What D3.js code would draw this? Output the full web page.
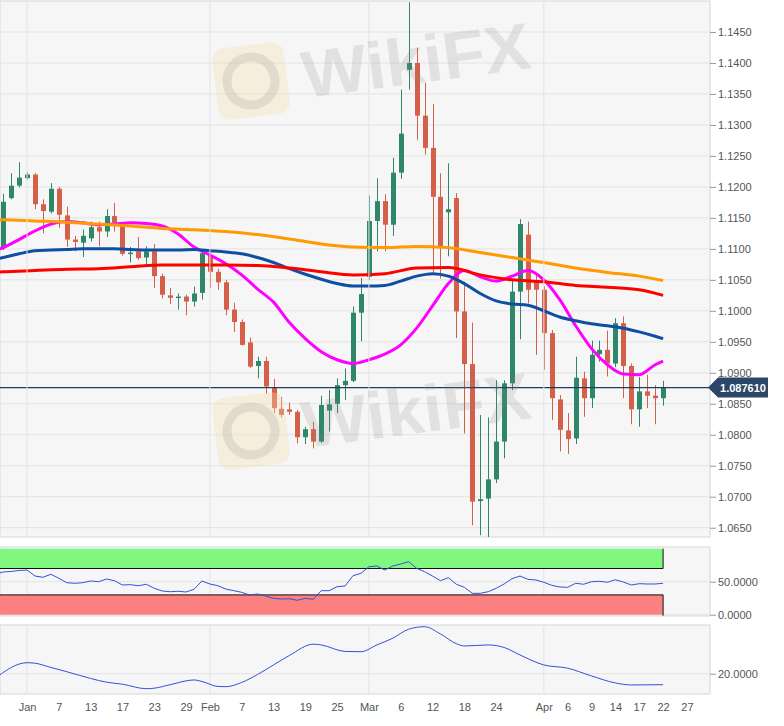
<!DOCTYPE html>
<html>
<head>
<meta charset="utf-8">
<script src="https://cdn.jsdelivr.net/npm/d3@7"></script>
<style>
  body { margin: 0; background: #fff; }
  svg { display: block; }
  text { font-family: "Liberation Sans", Arial, sans-serif; }
</style>
</head>
<body>
<svg width="784" height="726"></svg>
<script>
// EUR/USD daily, trading-day index 0 = Jan 1
const firstIdx = -3;
const open = [1.1101, 1.1182, 1.1202, 1.1214, 1.1220, 1.1172, 1.1160, 1.1197, 1.1154, 1.1115,
  1.1110, 1.1117, 1.1135, 1.1128, 1.1153, 1.1142, 1.1092, 1.1096, 1.1086, 1.1096,
  1.1056, 1.1025, 1.1021, 1.1023, 1.1015, 1.1029, 1.1090, 1.1063, 1.1046, 1.1002,
  1.0982, 1.0949, 1.0911, 1.0919, 1.0877, 1.0842, 1.0841, 1.0837, 1.0796, 1.0809,
  1.0789, 1.0839, 1.0850, 1.0880, 1.0887, 1.0997, 1.1055, 1.1145, 1.1177, 1.1139,
  1.1223, 1.1389, 1.1400, 1.1315, 1.1263, 1.1184, 1.1159, 1.1182, 1.0999, 1.0914,
  1.0693, 1.0697, 1.0728, 1.0789, 1.0883, 1.1031, 1.1123, 1.1047, 1.1034, 1.0964,
  1.0857, 1.0807, 1.0794, 1.0891, 1.0859, 1.0930, 1.0937, 1.0915, 1.0980, 1.0911,
  1.0841, 1.0870, 1.0863, 1.0859];
const high = [1.1189, 1.1222, 1.1240, 1.1224, 1.1222, 1.1180, 1.1206, 1.1200, 1.1168, 1.1121,
  1.1131, 1.1144, 1.1144, 1.1164, 1.1174, 1.1143, 1.1103, 1.1119, 1.1104, 1.1108,
  1.1060, 1.1037, 1.1028, 1.1026, 1.1039, 1.1097, 1.1096, 1.1068, 1.1050, 1.1013,
  1.0986, 1.0957, 1.0926, 1.0926, 1.0890, 1.0861, 1.0852, 1.0840, 1.0813, 1.0821,
  1.0863, 1.0872, 1.0891, 1.0907, 1.1007, 1.1053, 1.1186, 1.1214, 1.1188, 1.1247,
  1.1357, 1.1498, 1.1425, 1.1368, 1.1334, 1.1222, 1.1238, 1.1190, 1.1047, 1.0981,
  1.0832, 1.0828, 1.0888, 1.0888, 1.1050, 1.1148, 1.1144, 1.1058, 1.1040, 1.0969,
  1.0864, 1.0835, 1.0926, 1.0902, 1.0952, 1.0952, 1.0968, 1.0988, 1.0991, 1.0915,
  1.0893, 1.0897, 1.0880, 1.0887];
const low = [1.1098, 1.1180, 1.1199, 1.1212, 1.1164, 1.1125, 1.1157, 1.1134, 1.1103, 1.1096,
  1.1087, 1.1112, 1.1104, 1.1119, 1.1128, 1.1089, 1.1078, 1.1082, 1.1074, 1.1037,
  1.1020, 1.1011, 1.1002, 1.0993, 1.1007, 1.1018, 1.1037, 1.1034, 1.0993, 1.0966,
  1.0944, 1.0908, 1.0891, 1.0866, 1.0835, 1.0828, 1.0832, 1.0786, 1.0785, 1.0778,
  1.0787, 1.0805, 1.0835, 1.0856, 1.0885, 1.0951, 1.1050, 1.1096, 1.1096, 1.1121,
  1.1213, 1.1357, 1.1276, 1.1252, 1.1060, 1.1052, 1.1088, 1.0956, 1.0802, 1.0654,
  1.0638, 1.0635, 1.0722, 1.0762, 1.0872, 1.0954, 1.1012, 1.0929, 1.0905, 1.0824,
  1.0773, 1.0769, 1.0785, 1.0829, 1.0843, 1.0918, 1.0894, 1.0909, 1.0859, 1.0817,
  1.0813, 1.0843, 1.0817, 1.0847];
const close = [1.1176, 1.1202, 1.1215, 1.1220, 1.1172, 1.1161, 1.1197, 1.1155, 1.1115, 1.1111,
  1.1121, 1.1135, 1.1128, 1.1153, 1.1142, 1.1092, 1.1094, 1.1085, 1.1096, 1.1056,
  1.1026, 1.1021, 1.1023, 1.1015, 1.1028, 1.1093, 1.1063, 1.1046, 1.1002, 1.0982,
  1.0945, 1.0910, 1.0919, 1.0878, 1.0843, 1.0832, 1.0837, 1.0796, 1.0809, 1.0789,
  1.0848, 1.0849, 1.0880, 1.0887, 1.0997, 1.1027, 1.1145, 1.1177, 1.1139, 1.1223,
  1.1286, 1.1400, 1.1315, 1.1263, 1.1184, 1.1103, 1.1164, 1.0999, 1.0914, 1.0692,
  1.0696, 1.0728, 1.0789, 1.0883, 1.1031, 1.1140, 1.1034, 1.1034, 1.0964, 1.0859,
  1.0808, 1.0793, 1.0892, 1.0859, 1.0929, 1.0937, 1.0915, 1.0980, 1.0911, 1.0841,
  1.0870, 1.0863, 1.0859, 1.0876];
const lastPrice = 1.087610;

// moving averages, read at these trading-day indices
const slowIdx = [-4, -3, 1, 5, 9, 13, 17, 21, 25, 29, 33, 37, 41, 45, 49, 53, 57, 61, 65, 69, 73, 77, 80];
const ma200 = [1.1147, 1.1147, 1.1145, 1.1143, 1.1140, 1.1137, 1.1133, 1.1131, 1.1128, 1.1123, 1.1116, 1.1108,
  1.1103, 1.1102, 1.1104, 1.1102, 1.1094, 1.1086, 1.1078, 1.1069, 1.1062, 1.1056, 1.1049];
const ma100 = [1.1062, 1.1063, 1.1065, 1.1067, 1.1068, 1.1071, 1.1074, 1.1074, 1.1074, 1.1073, 1.1069, 1.1063,
  1.1058, 1.1060, 1.1069, 1.1070, 1.1058, 1.1050, 1.1047, 1.1041, 1.1038, 1.1034, 1.1025];
const fastIdx = [-4, -3, -1, 1, 3, 5, 7, 9, 11, 13, 15, 17, 19, 21, 23, 25, 27, 29, 31, 33, 35, 37, 39, 41,
  43, 45, 47, 49, 51, 53, 55, 57, 59, 61, 63, 65, 67, 69, 71, 73, 75, 77, 79, 80];
const ma50 = [1.1083, 1.1086, 1.1092, 1.1097, 1.1098, 1.1099, 1.1100, 1.1100, 1.1100, 1.1099, 1.1098, 1.1098,
  1.1098, 1.1099, 1.1097, 1.1095, 1.1092, 1.1086, 1.1078, 1.1068, 1.1059, 1.1051, 1.1044, 1.1040,
  1.1040, 1.1041, 1.1048, 1.1056, 1.1060, 1.1056, 1.1044, 1.1028, 1.1016, 1.1011, 1.1009, 1.1000,
  1.0990, 1.0984, 1.0979, 1.0976, 1.0972, 1.0966, 1.0959, 1.0955];
const ma20 = [1.1097, 1.1102, 1.1115, 1.1129, 1.1140, 1.1144, 1.1142, 1.1139, 1.1140, 1.1142, 1.1141, 1.1137,
  1.1124, 1.1103, 1.1090, 1.1076, 1.1058, 1.1035, 1.1014, 1.0981, 1.0955, 1.0934, 1.0921, 1.0915,
  1.0921, 1.0930, 1.0945, 1.0972, 1.1008, 1.1044, 1.1065, 1.1055, 1.1048, 1.1056, 1.1065, 1.1050,
  1.1018, 1.0976, 1.0939, 1.0913, 1.0898, 1.0897, 1.0913, 1.0919];

// RSI, one value per day from index -4
const rsiFirst = -4;
const rsi = [61.5, 64.7, 65.5, 67.0, 67.7, 58.6, 56.7, 61.2, 55.2, 48.5,
  47.6, 48.5, 51.1, 50.0, 54.1, 51.5, 45.0, 45.5, 43.9, 46.1,
  40.0, 35.9, 34.8, 35.5, 34.4, 38.5, 51.1, 46.5, 43.9, 38.9,
  36.4, 33.9, 29.8, 31.4, 28.3, 24.8, 23.8, 24.2, 21.8, 24.8,
  23.3, 36.4, 36.4, 42.4, 43.5, 59.1, 62.7, 72.7, 73.8, 67.7,
  73.8, 76.8, 80.3, 70.3, 65.2, 58.6, 51.5, 56.1, 46.1, 41.5,
  32.4, 32.4, 34.8, 40.0, 46.5, 54.5, 58.6, 53.6, 52.6, 49.1,
  44.5, 42.0, 41.5, 47.6, 46.1, 50.0, 50.6, 49.1, 53.0, 49.5,
  45.0, 47.0, 46.5, 46.5, 47.6];

// lower indicator
const lowIdx = [-4, 0, 1, 3, 5, 8, 10, 12, 15, 16, 18, 21, 22, 24, 25, 27, 29, 31, 33, 36, 37, 40, 42, 44,
  46, 48, 50, 52, 54, 55, 58, 60, 62, 65, 68, 71, 74, 76, 80];
const lowVal = [18.2, 24.4, 24.2, 22.5, 20.8, 18.1, 16.6, 15.8, 14.0, 14.2, 15.6, 17.5, 16.9, 14.9, 14.8, 16.5,
  19.7, 23.5, 27.3, 31.8, 31.5, 28.9, 28.8, 31.5, 34.2, 37.8, 38.8, 35.9, 32.0, 31.1, 31.5, 30.5,
  27.5, 23.5, 22.2, 19.1, 16.3, 15.5, 15.6];

// axes
const priceTicks = [1.0650, 1.0700, 1.0750, 1.0800, 1.0850, 1.0900, 1.0950, 1.1000, 1.1050,
  1.1100, 1.1150, 1.1200, 1.1250, 1.1300, 1.1350, 1.1400, 1.1450];
const monthIdx = [0, 23, 43, 65];
const xTickIdx = [0, 4, 8, 12, 16, 20, 23, 27, 31, 35, 39, 43, 47, 51, 55, 59, 65, 68, 71, 74, 77, 80, 83];
const xTickLabels = ["Jan", "7", "13", "17", "23", "29", "Feb", "7", "13", "19", "25", "Mar", "6", "12", "18",
  "24", "Apr", "6", "9", "14", "17", "22", "27"];

const svg = d3.select("svg");
const plotR = 710;
const mainP = {top: 1, bottom: 537};
const rsiP = {top: 547, bottom: 616};
const lowP = {top: 625, bottom: 694};

const x = d3.scaleLinear().domain([-3.4, 85.9]).range([0, plotR]);
const y = d3.scaleLinear().domain([1.0635, 1.1500]).range([mainP.bottom, mainP.top]);
const yRsi = d3.scaleLinear().domain([0, 100]).range([614.7, 548.7]);
const yLow = d3.scaleLinear().domain([20, 40]).range([673.7, 623.7]);

const green = "#2e8769", red = "#d5604a", grid = "#e3e3e3";

// panel backgrounds + clips
const defs = svg.append("defs");
[mainP, rsiP, lowP].forEach((p, k) => {
  svg.append("rect").attr("x", 0).attr("y", p.top).attr("width", plotR).attr("height", p.bottom - p.top)
    .attr("fill", "#f6f6f6").attr("stroke", "#d6d6d6");
  defs.append("clipPath").attr("id", "clip" + k).append("rect")
    .attr("x", 0).attr("y", p.top).attr("width", plotR).attr("height", p.bottom - p.top);
});

// gridlines
const gMain = svg.append("g").attr("clip-path", "url(#clip0)");
gMain.selectAll(".hg").data(priceTicks).join("line")
  .attr("x1", 0).attr("x2", plotR).attr("y1", d => y(d)).attr("y2", d => y(d))
  .attr("stroke", grid);
[mainP, rsiP, lowP].forEach(p => {
  svg.append("g").selectAll("line").data(monthIdx).join("line")
    .attr("x1", d => x(d)).attr("x2", d => x(d)).attr("y1", p.top + 1).attr("y2", p.bottom - 1)
    .attr("stroke", grid);
});
svg.selectAll(".rg").data([0, 50]).join("line")
  .attr("x1", 0).attr("x2", plotR).attr("y1", d => yRsi(d)).attr("y2", d => yRsi(d)).attr("stroke", grid);
svg.append("line").attr("x1", 0).attr("x2", plotR).attr("y1", yLow(20)).attr("y2", yLow(20)).attr("stroke", grid);

// moving averages
const maLine = d3.line().x(d => x(d[0])).y(d => y(d[1])).curve(d3.curveMonotoneX);
const maSeries = [
  {idx: fastIdx, vals: ma20, color: "#ff00ff"},
  {idx: fastIdx, vals: ma50, color: "#0f4fa3"},
  {idx: slowIdx, vals: ma100, color: "#ff0000"},
  {idx: slowIdx, vals: ma200, color: "#ff9a00"}
];

// candles
const candles = open.map((o, k) => ({i: firstIdx + k, o: o, h: high[k], l: low[k], c: close[k]}));
const cg = gMain.append("g");
cg.selectAll("line").data(candles).join("line")
  .attr("x1", d => Math.round(x(d.i)) + 0.5).attr("x2", d => Math.round(x(d.i)) + 0.5)
  .attr("y1", d => y(d.h)).attr("y2", d => y(d.l))
  .attr("stroke", d => d.c >= d.o ? green : red).attr("stroke-width", 1);
cg.selectAll("rect").data(candles).join("rect")
  .attr("x", d => Math.round(x(d.i)) - 2).attr("width", 5)
  .attr("y", d => y(Math.max(d.o, d.c)))
  .attr("height", d => Math.max(1.5, Math.abs(y(d.o) - y(d.c))))
  .attr("fill", d => d.c >= d.o ? green : red);

gMain.selectAll(".ma").data(maSeries).join("path")
  .attr("fill", "none").attr("stroke", d => d.color).attr("stroke-width", 3)
  .attr("d", d => maLine(d.idx.map((v, k) => [v, d.vals[k]])));

// last price line
gMain.append("line").attr("x1", 0).attr("x2", plotR).attr("y1", y(lastPrice)).attr("y2", y(lastPrice))
  .attr("stroke", "#203d60").attr("stroke-width", 1.2);

// RSI panel
const gRsi = svg.append("g").attr("clip-path", "url(#clip1)");
gRsi.append("rect").attr("x", 0).attr("width", x(80)).attr("y", yRsi(100))
  .attr("height", yRsi(70) - yRsi(100)).attr("fill", "#80f880");
gRsi.append("rect").attr("x", 0).attr("width", x(80)).attr("y", yRsi(30))
  .attr("height", yRsi(0) - yRsi(30)).attr("fill", "#fb8080");
gRsi.append("path").attr("fill", "none").attr("stroke", "#111").attr("stroke-width", 1)
  .attr("d", `M0,${yRsi(70)}H${x(80)}V${yRsi(100)}M0,${yRsi(30)}H${x(80)}V${yRsi(0) + 1}`);
gRsi.append("path").attr("fill", "none").attr("stroke", "#3450d6").attr("stroke-width", 1)
  .attr("d", d3.line().x((d, k) => x(rsiFirst + k)).y(d => yRsi(d))(rsi));

// lower panel
svg.append("g").attr("clip-path", "url(#clip2)").append("path")
  .attr("fill", "none").attr("stroke", "#3450d6").attr("stroke-width", 1)
  .attr("d", d3.line().x(d => x(d[0])).y(d => yLow(d[1])).curve(d3.curveMonotoneX)(lowIdx.map((v, k) => [v, lowVal[k]])));

// axes
function styleAxis(g) {
  g.select(".domain").remove();
  g.selectAll(".tick line").attr("stroke", "#9a9a9a");
  g.selectAll(".tick text").attr("fill", "#555").attr("font-size", 11)
    .attr("font-family", "'Liberation Sans', Arial, sans-serif");
}
svg.append("g").attr("transform", `translate(${plotR},0)`)
  .call(d3.axisRight(y).tickValues(priceTicks).tickFormat(d3.format(".4f")).tickSize(6).tickPadding(2))
  .call(styleAxis);
svg.append("g").attr("transform", `translate(${plotR},0)`)
  .call(d3.axisRight(yRsi).tickValues([0, 50]).tickFormat(d3.format(".4f")).tickSize(6).tickPadding(2))
  .call(styleAxis);
svg.append("g").attr("transform", `translate(${plotR},0)`)
  .call(d3.axisRight(yLow).tickValues([20]).tickFormat(d3.format(".4f")).tickSize(6).tickPadding(2))
  .call(styleAxis);
svg.append("g").attr("transform", `translate(0,${lowP.bottom})`)
  .call(d3.axisBottom(x).tickValues(xTickIdx).tickFormat((d, k) => xTickLabels[k]).tickSize(0).tickPadding(9))
  .call(styleAxis);

// last price tag
const ly = y(lastPrice);
svg.append("path").attr("fill", "#2b4668")
  .attr("d", `M${plotR - 2},${ly}L${plotR + 8},${ly - 10}H${plotR + 58}V${ly + 10}H${plotR + 8}Z`);
svg.append("text").attr("x", plotR + 33).attr("y", ly + 4).attr("text-anchor", "middle")
  .attr("fill", "#fff").attr("font-size", 11).attr("font-weight", "bold").text(d3.format(".6f")(lastPrice));

// watermark
function watermark(dy) {
  const g = svg.append("g").attr("transform", `translate(0,${dy})`).attr("pointer-events", "none");
  const logo = g.append("g").attr("transform", "rotate(-7,251,81)");
  logo.append("rect").attr("x", 215).attr("y", 45).attr("width", 72).attr("height", 72).attr("rx", 12)
    .attr("fill", "#f3dfae").attr("opacity", 0.35);
  logo.append("circle").attr("cx", 251).attr("cy", 81).attr("r", 24)
    .attr("fill", "none").attr("stroke", "#999").attr("stroke-width", 9).attr("opacity", 0.22);
  g.append("text").attr("x", 305).attr("y", 98).attr("transform", "rotate(-7.5,305,98)")
    .attr("font-size", 66).attr("font-weight", "bold").attr("fill", "#8a8480").attr("opacity", 0.18)
    .attr("textLength", 230).attr("lengthAdjust", "spacingAndGlyphs").text("WikiFX");
}
watermark(0);
watermark(350);
</script>
</body>
</html>
